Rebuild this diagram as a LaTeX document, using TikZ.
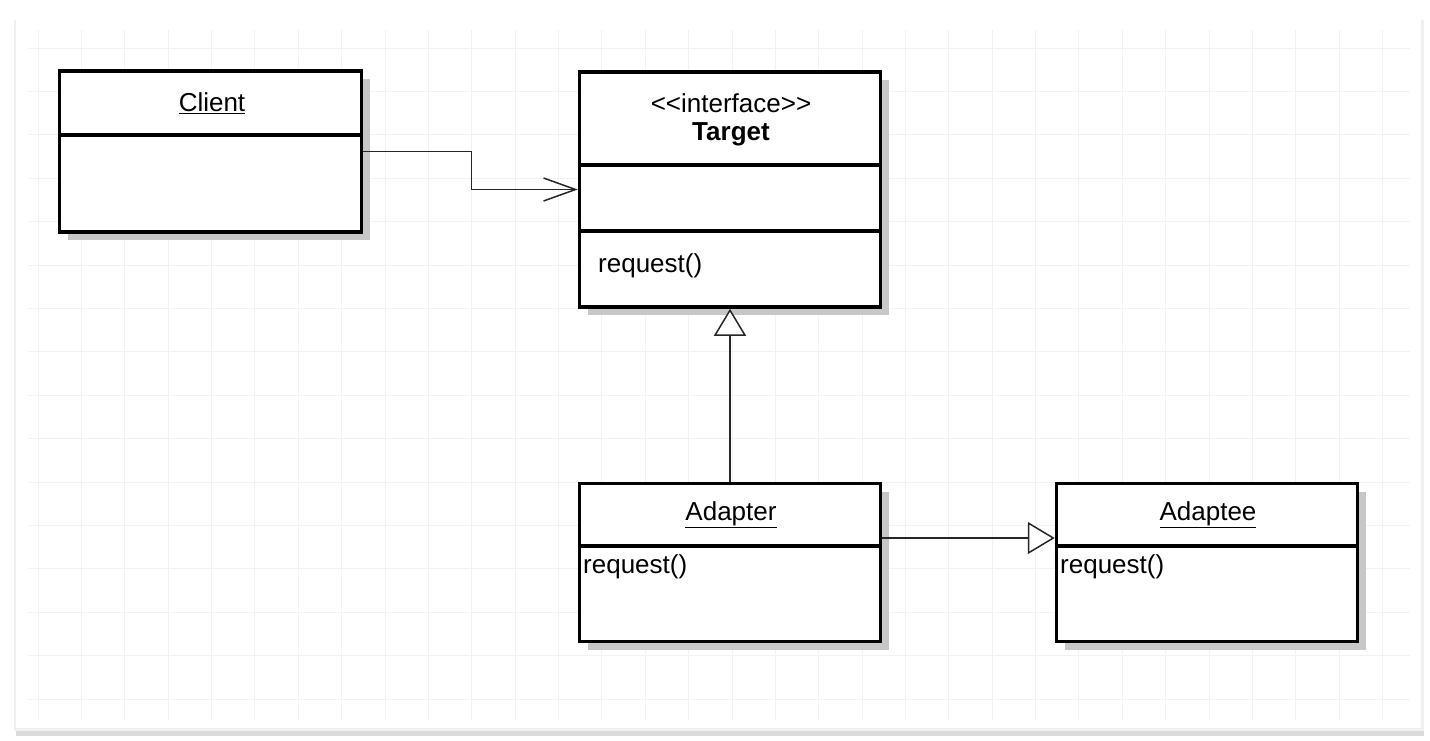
\documentclass[tikz,border=0pt]{standalone}
\usepackage{fontspec}
\setmainfont{Liberation Sans}
\usetikzlibrary{arrows.meta,shadows}
\begin{document}
\begin{tikzpicture}[x=1pt,y=-1pt,
  font=\fontsize{26}{31}\selectfont,
  gridline/.style={draw=blue!25!black!5, line width=0.8pt},
  umlbox/.style={draw=black, line width=3.5pt, fill=white, inner sep=0pt,
    drop shadow={shadow xshift=8pt, shadow yshift=-8pt, opacity=1, fill=black!22}},
  divider/.style={line width=3.5pt},
  link/.style={draw=black!85, line width=1.5pt},
  assoc/.style={link, -{Straight Barb[length=32pt,width=23pt,line width=1.5pt]}},
  realize/.style={link, -{Triangle[open,fill=white,length=27pt,width=32pt,line width=1.5pt]}}
]
\useasboundingbox (0,0) rectangle (1430,740);

% sheet of paper
\fill[black!14] (16,22) rectangle (1424,736);
\fill[black!6] (14,20) rectangle (1424,731);
\fill[white] (16,18) rectangle (1421,728);

% background grid
\foreach \k in {0,...,31} \draw[gridline] (38+43.37*\k,30) -- (38+43.37*\k,720);
\foreach \k in {0,...,15} \draw[gridline] (28,48+43.4*\k) -- (1410,48+43.4*\k);

% classes
\node[umlbox, minimum width=302pt, minimum height=161pt] (client) at (210.5,151.5) {};
\node[umlbox, minimum width=301pt, minimum height=235pt] (target) at (730,189.5) {};
\node[umlbox, minimum width=301pt, minimum height=158pt] (adapter) at (730,562.5) {};
\node[umlbox, minimum width=301pt, minimum height=158pt] (adaptee) at (1207,562.5) {};

% compartments
\draw[divider] (client.west |- 0,135) -- (client.east |- 0,135);
\draw[divider] (target.west |- 0,165) -- (target.east |- 0,165);
\draw[divider] (target.west |- 0,231) -- (target.east |- 0,231);
\draw[divider] (adapter.west |- 0,546) -- (adapter.east |- 0,546);
\draw[divider] (adaptee.west |- 0,546) -- (adaptee.east |- 0,546);

% labels
\node (clientname) at (212,103) {\underline{Client}};
\node (stereo) at (731,103) {{<}{<}interface{>}{>}};
\node (targetname) at (731,134) {\bfseries Target};
\node[anchor=west, inner sep=0pt] (targetop) at (598,266) {request()};
\node (adaptername) at (731,515) {\underline{Adapter}};
\node[anchor=west, inner sep=0pt] (adapterop) at (583,567) {request()};
\node (adapteename) at (1208,515) {\underline{Adaptee}};
\node[anchor=west, inner sep=0pt] (adapteeop) at (1060,567) {request()};

% relations
\draw[assoc] (client.east) -- ++(108,0) |- (target.west);
\draw[realize] (adapter.north) -- (target.south);
\draw[realize] ([yshift=24.5pt]adapter.east) -- ([yshift=24.5pt]adaptee.west);
\end{tikzpicture}
\end{document}
